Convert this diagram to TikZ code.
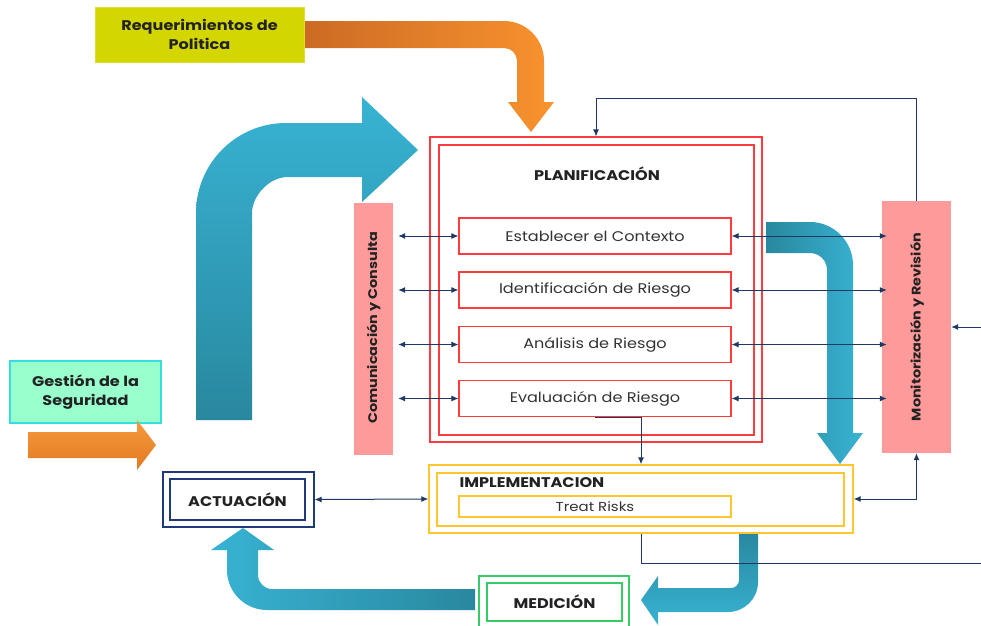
\documentclass[tikz,border=0pt]{standalone}
\usepackage{fontspec}
\setmainfont{Poppins}[FakeStretch=1.15]
\usetikzlibrary{arrows.meta,calc}

\definecolor{navy}{HTML}{1F3864}
\definecolor{boxred}{HTML}{FF3B3B}
\definecolor{gold}{HTML}{FFC72C}
\definecolor{mintfill}{HTML}{99FFCC}
\definecolor{mintline}{HTML}{33E0E0}
\definecolor{olive}{HTML}{D4D600}
\definecolor{pinkbar}{HTML}{FF9A9A}
\definecolor{greenline}{HTML}{33CC66}
\definecolor{actnavy}{HTML}{203A78}
\definecolor{blueA}{HTML}{38B3D3}
\definecolor{blueB}{HTML}{29889F}
\definecolor{orangeA}{HTML}{CC6A24}
\definecolor{orangeB}{HTML}{F8932E}
\definecolor{orangeC}{HTML}{F69A3E}
\definecolor{orangeD}{HTML}{E27A22}
\definecolor{txt}{HTML}{222222}
\definecolor{bodytxt}{HTML}{333333}

\tikzset{
  tip/.tip={Latex[length=7pt,width=6pt]},
  conn/.style={draw=navy, line width=1pt, -tip},
  dconn/.style={draw=navy, line width=1pt, tip-tip},
  plainline/.style={draw=navy, line width=1pt},
  redbox/.style={draw=boxred, line width=1.1pt, inner sep=0pt, fill=white},
  steptext/.style={font=\fontsize{14}{16}\selectfont, text=bodytxt},
  stepbox/.style={redbox, minimum width=272, minimum height=36, steptext},
  goldbox/.style={draw=gold, line width=1.4pt, inner sep=0pt},
  greenbox/.style={draw=greenline, line width=1.4pt, inner sep=0pt},
  navybox/.style={draw=actnavy, line width=1.1pt, inner sep=0pt},
  bar/.style={fill=pinkbar, inner sep=0pt, minimum width=39, minimum height=252},
  titletext/.style={font=\bfseries\fontsize{14}{16}\selectfont, text=txt},
  bartext/.style={font=\bfseries\fontsize{12.5}{15}\selectfont, text=txt, rotate=90},
  sourcebox/.style={inner sep=0pt, align=center,
    font=\bfseries\fontsize{14}{18.5}\selectfont, text=txt}
}

\begin{document}
\begin{tikzpicture}[x=1pt,y=-1pt]
\useasboundingbox (0,0) rectangle (981,625);

% ---- block arrows (background) ----
% policy requirements: right, then down into planning
\shade[left color=orangeA, right color=orangeB]
  (304,21) -- (504,21) .. controls (526.1,21) and (544,38.9) .. (544,61)
  -- (544,102) -- (554,102) -- (531,132) -- (508,102) -- (517,102)
  -- (517,61) .. controls (517,53.8) and (511.2,48) .. (504,48)
  -- (304,48) -- cycle;

% big arrow: up, then right towards planning
\shade[top color=blueA, bottom color=blueB]
  (196,420) -- (196,213) .. controls (196,163.3) and (236.3,123) .. (286,123)
  -- (362,123) -- (362,97) -- (418,150) -- (362,202) -- (362,177)
  -- (288,177) .. controls (268.1,177) and (252,196.9) .. (252,213)
  -- (252,420) -- cycle;

% planning -> implementation
\shade[left color=blueB, right color=blueA]
  (766,222) -- (810,222) .. controls (833.7,222) and (853,241.3) .. (853,265)
  -- (853,433) -- (863,433) -- (840,464) -- (817,433) -- (827,433)
  -- (827,270) .. controls (827,260.6) and (819.4,253) .. (810,253)
  -- (766,253) -- cycle;

% implementation -> measurement
\shade[top color=blueB, bottom color=blueA]
  (739,533) -- (758,533) -- (758,582) .. controls (758,598.6) and (744.6,612) .. (728,612)
  -- (658,612) -- (658,625) -- (641,600) -- (658,576) -- (658,588)
  -- (731,588) .. controls (735.4,588) and (739,584.4) .. (739,580)
  -- cycle;

% measurement -> action
\shade[left color=blueA, right color=blueB]
  (475,610) -- (267,610) .. controls (244.9,610) and (227,592.1) .. (227,570)
  -- (227,550) -- (211,550) -- (243,528) -- (274,550) -- (258,550)
  -- (258,575) .. controls (258,582.7) and (264.3,589) .. (272,589)
  -- (475,589) -- cycle;

% ---- boxes ----
\node[sourcebox, fill=olive, draw=olive!80!white, line width=0.8pt,
      minimum width=209, minimum height=55] (req) at (199.5,34.5)
  {Requerimientos de\\Politica};
\node[sourcebox, fill=mintfill, draw=mintline, line width=1.1pt,
      minimum width=151, minimum height=62] (gest) at (85.5,392)
  {Gestión de la\\Seguridad};

\node[redbox, minimum width=332, minimum height=305] (planout) at (596,289.5) {};
\node[redbox, minimum width=315, minimum height=290] (planin) at (596.5,290) {};
\node[titletext] (plantitle) at (597,174) {PLANIFICACIÓN};

\node[stepbox] (ctx) at (595,236)   {Establecer el Contexto};
\node[stepbox] (idr) at (595,290)   {Identificación de Riesgo};
\node[stepbox] (anr) at (595,344.5) {Análisis de Riesgo};
\node[stepbox] (evr) at (595,398.5) {Evaluación de Riesgo};

\node[bar] (com) at (373.5,329) {};
\node[bartext] (comtext) at (373.5,328) {Comunicación y Consulta};
\node[bar, minimum width=69] (mon) at (916.5,327) {};
\node[bartext] (montext) at (917,327) {Monitorización y Revisión};

\node[goldbox, minimum width=424, minimum height=68] (implout) at (641,499) {};
\node[goldbox, minimum width=407, minimum height=53] (implin) at (640.5,499.5) {};
\node[titletext, anchor=west] (impltitle) at (456,483) {IMPLEMENTACION};
\node[goldbox, minimum width=272, minimum height=21,
      font=\fontsize{13}{14}\selectfont, text=bodytxt] (treat) at (595,506.5) {Treat Risks};

\node[navybox, minimum width=151, minimum height=55] (actout) at (238.5,499.5) {};
\node[navybox, minimum width=135, minimum height=41, titletext] (actin) at (237.5,499.5) {ACTUACIÓN};

\node[greenbox, minimum width=150, minimum height=54] (medout) at (554,603) {};
\node[greenbox, minimum width=135, minimum height=38, titletext] (medin) at (554.5,602) {MEDICIÓN};

% safety management input arrow
\shade[top color=orangeC, bottom color=orangeD]
  (28,432) -- (137,432) -- (137,420) -- (156,445) -- (137,470) -- (137,458)
  -- (28,458) -- cycle;

% ---- connectors ----
\coordinate (fb) at (596,98);
\coordinate (rin) at (981,327);
\coordinate (rout) at (981,563);

\foreach \b in {ctx,idr,anr,evr} {
  \draw[dconn] ($(com.east |- \b.west)+(5,0)$) -- (\b.west);
  \draw[dconn] (\b.east) -- ($(mon.west |- \b.east)+(5,0)$);
}
\draw[conn] (mon.north) |- (fb) -- (planout.north);
\draw[conn] (rin) -- (mon.east);
\draw[conn] (evr.south) -| (implout.north);
\draw[plainline] (implout.south) |- (rout);
\draw[dconn] (implout.east) -| (mon.south);
\draw[dconn] (implout.west) -- (actout.east);
\end{tikzpicture}
\end{document}
